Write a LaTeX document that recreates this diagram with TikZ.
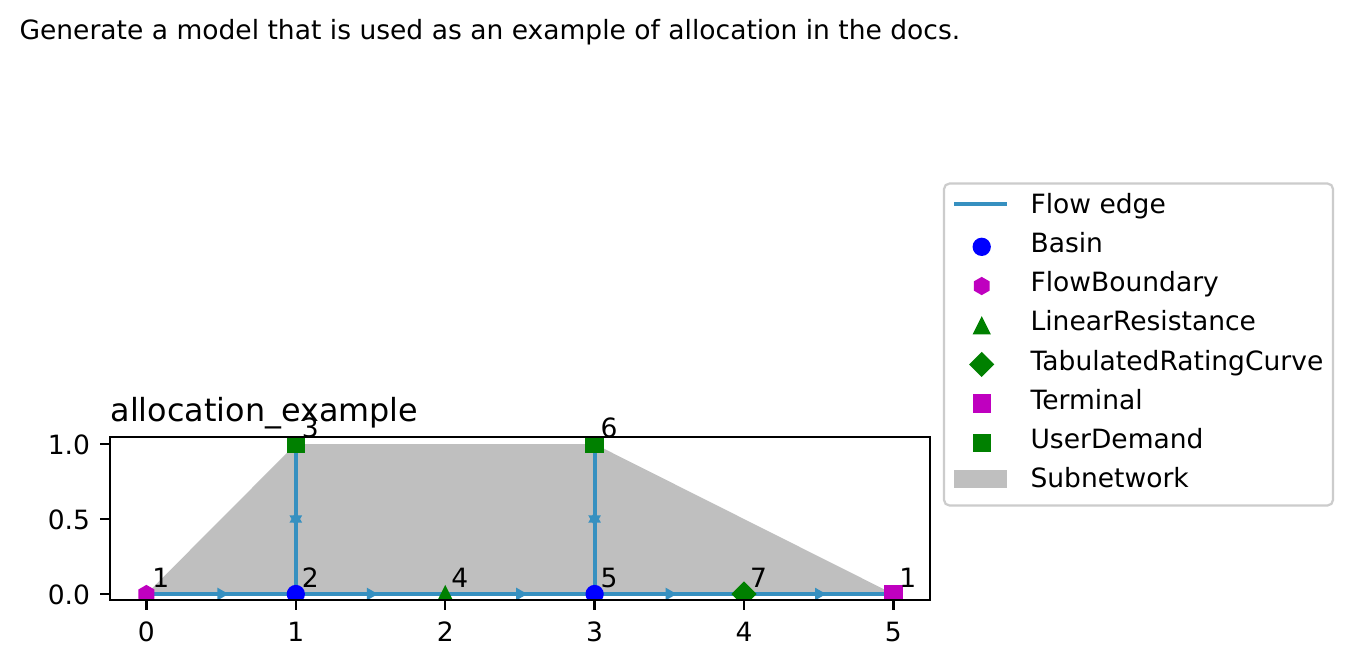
\documentclass[tikz,border=0pt]{standalone}
\usepackage{fontspec}
\setmainfont{DejaVu Sans}
\usetikzlibrary{shapes.geometric}
\definecolor{flowc}{HTML}{3690C0}
\definecolor{basinc}{HTML}{0000FF}
\definecolor{magc}{HTML}{BF00BF}
\definecolor{grnc}{HTML}{008000}
\definecolor{subc}{HTML}{BFBFBF}
\definecolor{legc}{HTML}{CCCCCC}
\tikzset{
  flow/.style={draw=flowc, line width=1.45pt},
  arr/.style={regular polygon, regular polygon sides=3, fill=flowc, draw=none, inner sep=0pt, minimum size=5.3pt},
  lbl/.style={anchor=base west, inner sep=0pt, font=\fontsize{9.55}{11.5}\selectfont},
  ticklab/.style={inner sep=0pt, font=\fontsize{9.55}{11.5}\selectfont},
  pics/basinmk/.style={code={\fill[basinc] (0,0) circle[radius=9.15];}},
  pics/fbmk/.style={code={\fill[magc] (90:9.15) -- (150:9.15) -- (210:9.15) -- (270:9.15) -- (330:9.15) -- (30:9.15) -- cycle;}},
  pics/lrmk/.style={code={\fill[grnc] (-9.15,9.15) -- (9.15,9.15) -- (0,-9.15) -- cycle;}},
  pics/trcmk/.style={code={\fill[grnc] (-12.6,0) -- (0,-12.6) -- (12.6,0) -- (0,12.6) -- cycle;}},
  pics/termmk/.style={code={\fill[magc] (-9.15,-9.15) rectangle (9.15,9.15);}},
  pics/udmk/.style={code={\fill[grnc] (-9.15,-9.15) rectangle (9.15,9.15);}},
}
\begin{document}
\begin{tikzpicture}[x=0.36pt,y=-0.36pt]
\useasboundingbox[fill=white] (0,0) rectangle (1352,665);

% header text
\node[lbl, anchor=base west] (hdr) at (19,39) {Generate a model that is used as an example of allocation in the docs.};

% node positions
\coordinate (n1) at (146.4,594);
\coordinate (n2) at (295.8,594);
\coordinate (n3) at (295.8,444);
\coordinate (n4) at (445.2,594);
\coordinate (n5) at (594.6,594);
\coordinate (n6) at (594.6,444);
\coordinate (n7) at (744.0,594);
\coordinate (t1) at (893.4,594);

\begin{scope}
  \clip (110,437) rectangle (930,600);
  % subnetwork
  \fill[subc] (n1) -- (n3) -- (n6) -- (t1) -- cycle;
  % flow edges
  \draw[flow] (n1) -- node[arr, shape border rotate=-90] (a1) {} (n2);
  \draw[flow] (n2) -- node[arr] (a2) {} (n3);
  \draw[flow] (n3) -- node[arr, shape border rotate=180] (a3) {} (n2);
  \draw[flow] (n2) -- node[arr, shape border rotate=-90] (a4) {} (n4);
  \draw[flow] (n4) -- node[arr, shape border rotate=-90] (a5) {} (n5);
  \draw[flow] (n5) -- node[arr] (a6) {} (n6);
  \draw[flow] (n6) -- node[arr, shape border rotate=180] (a7) {} (n5);
  \draw[flow] (n5) -- node[arr, shape border rotate=-90] (a8) {} (n7);
  \draw[flow] (n7) -- node[arr, shape border rotate=-90] (a9) {} (t1);
  % markers
  \pic at (n1) {fbmk};
  \pic at (n2) {basinmk};
  \pic at (n3) {udmk};
  \pic at (n4) {lrmk};
  \pic at (n5) {basinmk};
  \pic at (n6) {udmk};
  \pic at (n7) {trcmk};
  \pic at (t1) {termmk};
\end{scope}

% axes frame
\draw[line width=0.8pt] (110,437) rectangle (930,600);
% x ticks
\foreach \xx/\lab in {146.4/0,295.8/1,445.2/2,594.6/3,744.0/4,893.4/5}{
  \draw[line width=0.8pt] (\xx,600) -- (\xx,609.7);
  \node[ticklab, anchor=north] at (\xx,621.5) {\lab};
}
% y ticks
\foreach \yy/\lab in {594/0.0,519/0.5,444/1.0}{
  \draw[line width=0.8pt] (110,\yy) -- (100.3,\yy);
  \node[ticklab, anchor=east] at (90.5,\yy+1) {\lab};
}

% title
\node[anchor=base west, inner sep=0pt, font=\fontsize{11.46}{13.7}\selectfont] (ttl) at (110,421.5) {allocation\_example};

% node labels
\node[lbl] (l1) at ([shift={(5.5,-7)}]n1) {1};
\node[lbl] (l2) at ([shift={(5.5,-7)}]n2) {2};
\node[lbl] (l3) at ([shift={(5.5,-7)}]n3) {3};
\node[lbl] (l4) at ([shift={(5.5,-7)}]n4) {4};
\node[lbl] (l5) at ([shift={(5.5,-7)}]n5) {5};
\node[lbl] (l6) at ([shift={(5.5,-7)}]n6) {6};
\node[lbl] (l7) at ([shift={(5.5,-7)}]n7) {7};
\node[lbl] (l8) at ([shift={(5.5,-7)}]t1) {1};

% legend
\draw[legc, fill=white, line width=0.8pt, rounded corners=2pt] (944,183.5) rectangle (1333,505.5);
\draw[flowc, line width=1.45pt] (954,203.7) -- (1006.7,203.7);
\pic at (981.7,246.8) {basinmk};
\pic at (981.7,286.0) {fbmk};
\pic at (981.7,325.2) {lrmk};
\pic at (981.7,364.4) {trcmk};
\pic at (981.7,403.6) {termmk};
\pic at (981.7,442.8) {udmk};
\fill[subc] (954,470) rectangle (1006.7,488.3);
\node[lbl] (g1) at (1030,213.3) {Flow edge};
\node[lbl] (g2) at (1030,252.5) {Basin};
\node[lbl] (g3) at (1030,291.7) {FlowBoundary};
\node[lbl] (g4) at (1030,330.9) {LinearResistance};
\node[lbl] (g5) at (1030,370.1) {TabulatedRatingCurve};
\node[lbl] (g6) at (1030,409.3) {Terminal};
\node[lbl] (g7) at (1030,448.5) {UserDemand};
\node[lbl] (g8) at (1030,487.7) {Subnetwork};
\end{tikzpicture}
\end{document}
